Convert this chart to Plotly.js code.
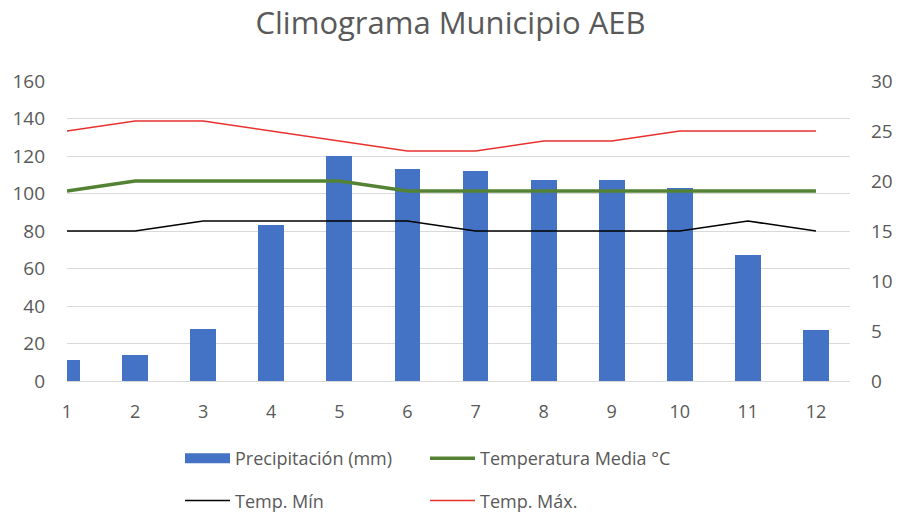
<!DOCTYPE html>
<html>
<head>
<meta charset="utf-8">
<script src="https://cdn.plot.ly/plotly-3.0.1.min.js"></script>
<style>html,body{margin:0;padding:0;background:#fff;}#chart{width:901px;height:522px;}</style>
</head>
<body>
<div id="chart"></div>
<script>
var months = [1,2,3,4,5,6,7,8,9,10,11,12];
var precipitacion = [11,14,28,83,120,113,112,107,107,103,67,27];
var tempMedia = [19,20,20,20,20,19,19,19,19,19,19,19];
var tempMin = [15,15,16,16,16,16,15,15,15,15,16,15];
var tempMax = [25,26,26,25,24,23,23,24,24,25,25,25];
var leftTicks = [0,20,40,60,80,100,120,140,160];
var rightTicks = [0,5,10,15,20,25,30];

var FONT = 'Open Sans, Noto Sans, sans-serif';
var GRAY = '#595959';
var BLUE = '#4472C4';

var traces = [
  {type:'bar', x:months, y:precipitacion, name:'Precipitación (mm)', marker:{color:BLUE}, width:0.38, showlegend:false},
  {type:'scatter', mode:'lines', x:[null], y:[null], name:'Precipitación (mm)', line:{color:BLUE, width:12}, legend:'legend', legendgroup:'a', hoverinfo:'skip'},
  {type:'scatter', mode:'lines', x:months, y:tempMedia, name:'Temperatura Media °C', yaxis:'y2', line:{color:'#548235', width:3.5}, legend:'legend2', legendgroup:'b'},
  {type:'scatter', mode:'lines', x:months, y:tempMin, name:'Temp. Mín', yaxis:'y2', line:{color:'#000000', width:1.5}, legend:'legend', legendgroup:'c'},
  {type:'scatter', mode:'lines', x:months, y:tempMax, name:'Temp. Máx.', yaxis:'y2', line:{color:'#E8302E', width:1.5}, legend:'legend2', legendgroup:'d'}
];

var legendCommon = {
  orientation:'v', xref:'paper', yref:'paper', xanchor:'left', yanchor:'top',
  font:{family:FONT, size:18, color:GRAY}, tracegroupgap:16, itemwidth:45, bgcolor:'rgba(0,0,0,0)'
};

var layout = {
  width:901, height:522,
  margin:{l:67, r:51, t:81, b:141, autoexpand:false},
  paper_bgcolor:'#fff', plot_bgcolor:'#fff',
  font:{family:FONT, color:GRAY},
  title:{text:'Climograma Municipio AEB', font:{family:FONT, size:31, color:GRAY}, x:0.5, xanchor:'center', y:0.955, yref:'container', yanchor:'middle'},
  bargap:0,
  xaxis:{range:[1,12.5], tickvals:months, ticktext:months.map(String), showgrid:false, zeroline:false, showline:false,
         ticks:'', ticklabelstandoff:18, tickfont:{family:FONT, size:18, color:GRAY}, automargin:false},
  yaxis:{range:[0,160], tickvals:leftTicks, showgrid:true, gridcolor:'#d9d9d9', gridwidth:1, zeroline:true, zerolinecolor:'#d9d9d9',
         showline:false, ticks:'', ticklabelstandoff:21, tickfont:{family:FONT, size:19, color:GRAY}, automargin:false},
  yaxis2:{range:[0,30], tickvals:rightTicks, overlaying:'y', side:'right', showgrid:false, zeroline:false, showline:false,
          ticks:'', ticklabelstandoff:20, tickfont:{family:FONT, size:19, color:GRAY}, automargin:false},
  legend:Object.assign({}, legendCommon, {x:(180-67)/783, y:-(440-381)/300}),
  legend2:Object.assign({}, legendCommon, {x:(425-67)/783, y:-(440-381)/300}),
  showlegend:true
};

Plotly.newPlot('chart', traces, layout, {displayModeBar:false, staticPlot:true});
</script>
</body>
</html>
